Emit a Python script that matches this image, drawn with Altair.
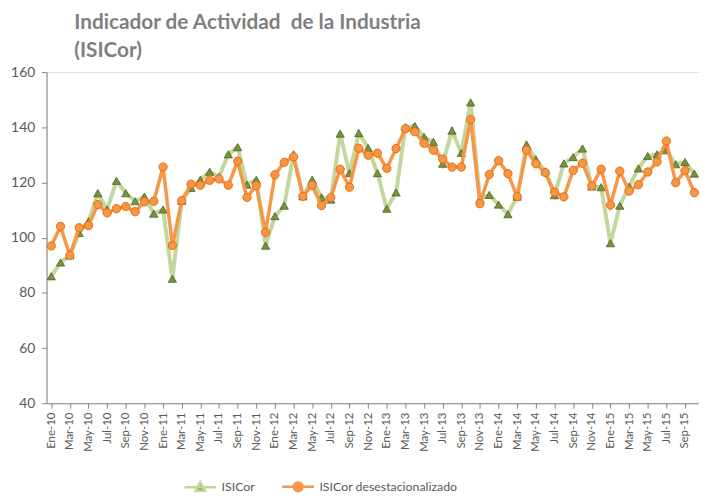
import altair as alt
import pandas as pd

meses_abrev = ["Ene", "Feb", "Mar", "Abr", "May", "Jun", "Jul", "Ago", "Sep", "Oct", "Nov", "Dic"]
anios = ["10", "11", "12", "13", "14", "15"]
meses = [f"{m}-{a}" for a in anios for m in meses_abrev][:70]

isicor = [86.0, 91.0, 93.6, 101.7, 105.9, 116.1, 110.2, 120.6, 116.1, 113.2, 114.9, 108.7,
          110.2, 85.1, 113.4, 118.0, 121.0, 123.9, 122.0, 130.2, 132.8, 119.2, 121.0, 97.1,
          107.8, 111.6, 130.2, 115.0, 121.0, 114.6, 113.8, 137.7, 123.4, 137.9, 132.5, 123.4,
          110.5, 116.4, 140.0, 140.5, 136.5, 134.7, 126.8, 138.8, 130.7, 149.0, 114.0, 115.5,
          112.0, 108.5, 114.9, 133.7, 128.4, 124.0, 115.4, 126.9, 129.2, 132.3, 118.6, 118.3,
          98.0, 111.6, 118.5, 125.1, 129.6, 130.2, 131.7, 126.6, 127.4, 123.2]

isicor_desest = [97.0, 104.1, 93.6, 103.6, 104.4, 112.0, 109.0, 110.5, 111.3, 109.4, 113.0, 113.2,
                 125.6, 97.2, 113.4, 119.4, 119.0, 120.8, 121.3, 119.0, 127.7, 114.6, 118.9, 101.9,
                 122.8, 127.3, 129.3, 115.0, 119.0, 111.6, 114.5, 124.8, 118.3, 132.4, 129.9, 130.6,
                 125.1, 132.3, 139.5, 138.4, 134.2, 131.7, 128.5, 125.6, 125.6, 142.8, 112.3, 122.9,
                 127.9, 123.2, 114.9, 131.7, 126.8, 123.6, 116.5, 114.8, 124.4, 127.0, 118.7, 124.8,
                 111.8, 124.1, 116.9, 119.2, 123.8, 127.5, 135.0, 119.9, 124.3, 116.3]

series = ["ISICor", "ISICor desestacionalizado"]
y_ticks = [40, 60, 80, 100, 120, 140, 160]

df = pd.DataFrame({
    "mes": meses * 2,
    "serie": [series[0]] * len(meses) + [series[1]] * len(meses),
    "valor": isicor + isicor_desest,
})

FONT = "Lato"
TEXT = "#595959"
AXIS = "#868686"

x = alt.X("mes:N", sort=meses,
          scale=alt.Scale(type="point", padding=0.5),
          axis=alt.Axis(values=meses[::2], labelAngle=270, labelFontSize=11.5,
                        labelColor=TEXT, labelFont=FONT, labelPadding=4,
                        domainColor=AXIS, tickColor=AXIS, tickSize=5,
                        title=None, grid=False))
y = alt.Y("valor:Q",
          scale=alt.Scale(domain=[40, 160], nice=False, zero=False),
          axis=alt.Axis(values=y_ticks, labelFontSize=14, labelColor=TEXT, labelFont=FONT,
                        labelPadding=7, domainColor=AXIS, tickColor=AXIS, tickSize=5,
                        title=None, grid=False))

base = alt.Chart(df)

g = base.transform_filter(alt.datum.serie == series[0])
o = base.transform_filter(alt.datum.serie == series[1])

line_g = g.mark_line(color="#c3d69b", strokeWidth=4).encode(x=x, y=y)
pts_g = g.mark_point(shape="triangle-up", filled=True, fill="#77933c", stroke="#4f6228",
                     strokeWidth=0.8, size=70, opacity=1).encode(x=x, y=y)
line_o = o.mark_line(color="#f79646", strokeWidth=3.5).encode(x=x, y=y)
pts_o = o.mark_point(shape="circle", filled=True, fill="#f79646", stroke="#e46c0a",
                     strokeWidth=1, size=70, opacity=1).encode(x=x, y=y)

tri_path = "M-1,0H1M-0.3,0.22L0,-0.32L0.3,0.22Z"
circ_path = "M-1,0H1M0.28,0A0.28,0.28,0,1,1,-0.28,0A0.28,0.28,0,1,1,0.28,0Z"

leg_pos = dict(title=None, orient="none", direction="horizontal", legendX=138, legendY=402)

legend_layer = base.transform_filter("false").mark_point(
    filled=True, opacity=1, strokeWidth=2.5, size=1024
).encode(
    x=x, y=y,
    fill=alt.Fill("serie:N", scale=alt.Scale(domain=series, range=["#77933c", "#f79646"]),
                  legend=alt.Legend(labelFont=FONT, labelFontSize=12.5, labelColor=TEXT,
                                    symbolSize=1024, symbolStrokeWidth=2.5,
                                    labelOffset=4, columnPadding=22, **leg_pos)),
    stroke=alt.Stroke("serie:N", scale=alt.Scale(domain=series, range=["#c3d69b", "#f79646"]),
                      legend=alt.Legend(**leg_pos)),
    shape=alt.Shape("serie:N", scale=alt.Scale(domain=series, range=[tri_path, circ_path]),
                    legend=alt.Legend(**leg_pos)),
)

chart = alt.layer(legend_layer, line_g, pts_g, line_o, pts_o).properties(
    width=660,
    height=335,
    autosize=alt.AutoSizeParams(type="none"),
    padding={"left": 39, "top": 62, "right": 0, "bottom": 92},
    title=alt.Title(
        text=["Indicador de Actividad\u00a0 de la Industria", "(ISICor)"],
        anchor="start", frame="group", dx=28, offset=4,
        font=FONT, fontSize=21, fontWeight="bold", color="#7f7f7f", lineHeight=29,
    ),
).configure_view(stroke=None).configure(background="white")

chart.save("out.html", embed_options={"renderer": "svg", "actions": False})
